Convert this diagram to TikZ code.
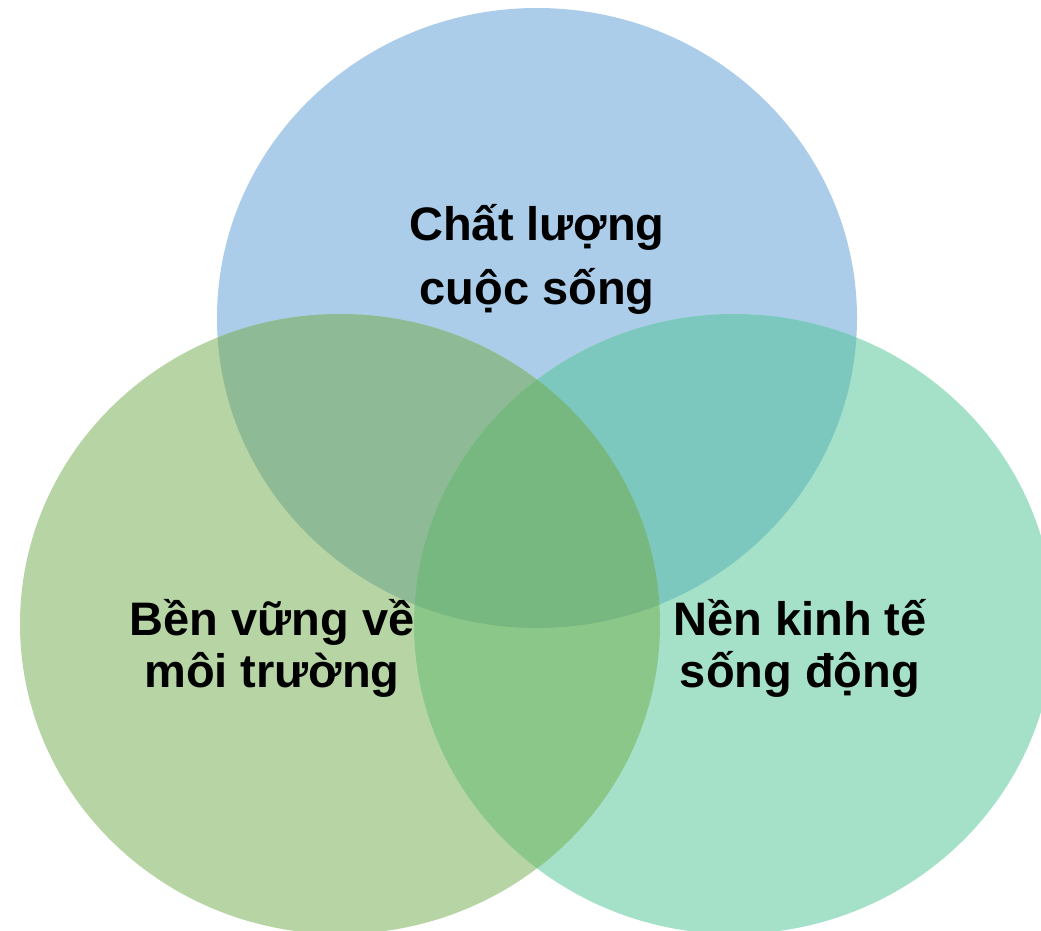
\documentclass[tikz,border=0pt]{standalone}
\usepackage{fontspec}
\setmainfont{Liberation Sans}
\definecolor{cTop}{HTML}{ABCDE9}
\definecolor{cLeft}{HTML}{B7D5A4}
\definecolor{cRight}{HTML}{A5E1C8}
\definecolor{cTL}{HTML}{8EBA95}
\definecolor{cTR}{HTML}{7DC8BE}
\definecolor{cLR}{HTML}{8BC789}
\definecolor{cAll}{HTML}{77B881}
\begin{document}
\begin{tikzpicture}[x=1pt,y=-1pt,
	blob/.style={x radius=320pt,y radius=310pt},
	lbl/.style={font=\bfseries\fontsize{47}{52}\selectfont,align=center,inner sep=0pt}]
	\useasboundingbox (0,0) rectangle (1041,931);
	\coordinate (quality) at (537,318);
	\coordinate (environment) at (340,624);
	\coordinate (economy) at (734,624);
	% the three circles
	\fill[cTop] (quality) ellipse [blob];
	\fill[cLeft] (environment) ellipse [blob];
	\fill[cRight] (economy) ellipse [blob];
	% overlaps
	\begin{scope}
		\clip (quality) ellipse [blob];
		\fill[cTL] (environment) ellipse [blob];
		\fill[cTR] (economy) ellipse [blob];
	\end{scope}
	\begin{scope}
		\clip (environment) ellipse [blob];
		\fill[cLR] (economy) ellipse [blob];
		\clip (quality) ellipse [blob];
		\fill[cAll] (economy) ellipse [blob];
	\end{scope}
	% labels
	\node[lbl,font=\bfseries\fontsize{47}{64}\selectfont] (qualitylbl) at (537,259) {Chất lượng\\cuộc sống};
	\node[lbl] (environmentlbl) at (272,648) {Bền vững về\\môi trường};
	\node[lbl] (economylbl) at (800,648) {Nền kinh tế\\sống động};
\end{tikzpicture}
\end{document}
